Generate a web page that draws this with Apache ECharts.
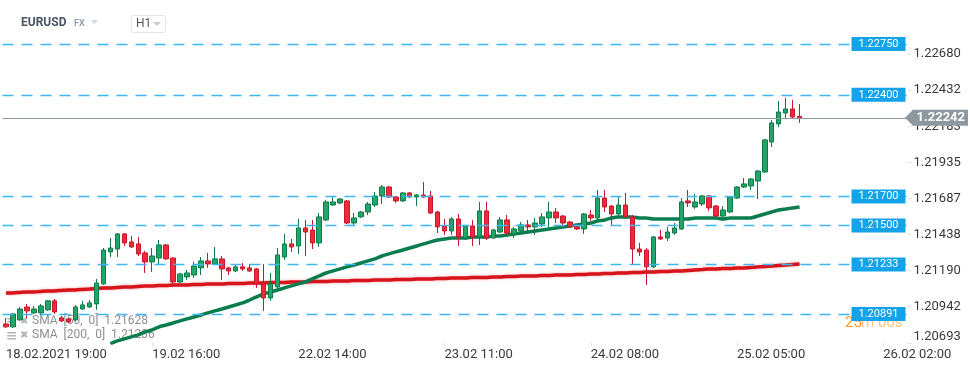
<!DOCTYPE html>
<html><head><meta charset="utf-8">
<script src="https://cdn.jsdelivr.net/npm/echarts@6/dist/echarts.min.js"></script>
<style>html,body{margin:0;padding:0;background:#fff}#c{width:970px;height:367px}</style>
</head><body><div id="c"></div>
<script>
// ---- data ----
const openP = [1.20823,1.20803,1.20851,1.20940,1.20899,1.20899,1.20920,1.20982,1.20865,1.20858,
1.20851,1.20926,1.20940,1.20961,1.21099,1.21319,1.21339,1.21443,1.21388,1.21374,
1.21312,1.21250,1.21277,1.21367,1.21277,1.21112,1.21147,1.21160,1.21209,1.21257,
1.21236,1.21271,1.21209,1.21188,1.21216,1.21209,1.21202,1.21099,1.21002,1.21078,
1.21284,1.21374,1.21360,1.21484,1.21470,1.21381,1.21539,1.21642,1.21656,1.21670,
1.21518,1.21560,1.21594,1.21642,1.21704,1.21766,1.21697,1.21670,1.21725,1.21697,
1.21711,1.21704,1.21594,1.21498,1.21463,1.21546,1.21415,1.21498,1.21422,1.21601,
1.21415,1.21456,1.21539,1.21443,1.21463,1.21505,1.21491,1.21511,1.21553,1.21594,
1.21566,1.21525,1.21491,1.21477,1.21573,1.21553,1.21690,1.21635,1.21580,1.21642,
1.21560,1.21339,1.21332,1.21216,1.21422,1.21415,1.21449,1.21477,1.21670,1.21628,
1.21649,1.21704,1.21635,1.21566,1.21594,1.21690,1.21766,1.21773,1.21807,1.21869,
1.22076,1.22200,1.22275,1.22303,1.22252];
const highP = [1.20865,1.20899,1.20940,1.20961,1.20947,1.20961,1.20988,1.20995,1.20878,1.20865,
1.20954,1.20982,1.20988,1.21133,1.21346,1.21415,1.21449,1.21449,1.21429,1.21422,
1.21326,1.21346,1.21401,1.21374,1.21284,1.21174,1.21195,1.21250,1.21284,1.21312,
1.21353,1.21291,1.21216,1.21236,1.21243,1.21236,1.21209,1.21236,1.21174,1.21346,
1.21443,1.21408,1.21546,1.21539,1.21539,1.21587,1.21677,1.21697,1.21690,1.21677,
1.21587,1.21601,1.21663,1.21732,1.21780,1.21773,1.21704,1.21732,1.21732,1.21718,
1.21800,1.21739,1.21601,1.21546,1.21560,1.21580,1.21505,1.21539,1.21663,1.21663,
1.21477,1.21560,1.21573,1.21491,1.21525,1.21539,1.21553,1.21587,1.21663,1.21622,
1.21573,1.21532,1.21498,1.21587,1.21608,1.21745,1.21745,1.21642,1.21697,1.21725,
1.21573,1.21381,1.21346,1.21429,1.21470,1.21491,1.21518,1.21690,1.21745,1.21718,
1.21711,1.21711,1.21642,1.21635,1.21704,1.21773,1.21828,1.21828,1.21883,1.22096,
1.22227,1.22358,1.22379,1.22365,1.22337];
const lowP = [1.20796,1.20796,1.20844,1.20865,1.20892,1.20885,1.20913,1.20892,1.20837,1.20830,
1.20844,1.20920,1.20933,1.20920,1.21092,1.21284,1.21284,1.21360,1.21346,1.21291,
1.21174,1.21181,1.21229,1.21264,1.21078,1.21105,1.21126,1.21140,1.21160,1.21209,
1.21229,1.21126,1.21160,1.21181,1.21188,1.21181,1.21071,1.20913,1.20982,1.21071,
1.21264,1.21319,1.21305,1.21291,1.21339,1.21353,1.21532,1.21635,1.21649,1.21511,
1.21505,1.21553,1.21573,1.21628,1.21649,1.21690,1.21656,1.21663,1.21690,1.21635,
1.21690,1.21580,1.21449,1.21436,1.21436,1.21360,1.21401,1.21360,1.21367,1.21401,
1.21408,1.21449,1.21436,1.21415,1.21449,1.21449,1.21436,1.21491,1.21484,1.21518,
1.21491,1.21484,1.21470,1.21443,1.21532,1.21525,1.21594,1.21505,1.21553,1.21546,
1.21236,1.21291,1.21092,1.21209,1.21401,1.21394,1.21436,1.21470,1.21628,1.21615,
1.21635,1.21601,1.21560,1.21560,1.21587,1.21683,1.21759,1.21745,1.21683,1.21862,
1.22041,1.22179,1.22241,1.22241,1.22207];
const closeP = [1.20803,1.20892,1.20926,1.20913,1.20926,1.20947,1.20982,1.20906,1.20844,1.20837,
1.20940,1.20954,1.20968,1.21105,1.21332,1.21346,1.21443,1.21381,1.21353,1.21305,
1.21250,1.21291,1.21367,1.21271,1.21112,1.21167,1.21174,1.21222,1.21257,1.21236,
1.21271,1.21202,1.21188,1.21216,1.21202,1.21188,1.21099,1.21002,1.21099,1.21298,
1.21374,1.21353,1.21484,1.21456,1.21381,1.21560,1.21663,1.21663,1.21683,1.21518,
1.21553,1.21594,1.21649,1.21704,1.21766,1.21697,1.21670,1.21725,1.21697,1.21711,
1.21697,1.21587,1.21491,1.21463,1.21546,1.21422,1.21498,1.21422,1.21601,1.21415,
1.21470,1.21539,1.21449,1.21477,1.21505,1.21491,1.21518,1.21560,1.21594,1.21553,
1.21518,1.21491,1.21477,1.21580,1.21553,1.21690,1.21628,1.21580,1.21642,1.21560,
1.21339,1.21319,1.21216,1.21422,1.21408,1.21456,1.21484,1.21663,1.21656,1.21663,
1.21704,1.21622,1.21566,1.21608,1.21697,1.21766,1.21787,1.21821,1.21876,1.22090,
1.22207,1.22282,1.22303,1.22248,1.22242];
const sma50 = [null,null,null,null,null,null,null,null,null,null,null,null,null,null,null,
1.20686,1.20706,1.20720,1.20734,1.20748,1.20768,1.20782,1.20803,1.20816,1.20830,
1.20844,1.20858,1.20871,1.20885,1.20899,1.20913,1.20926,1.20940,1.20954,1.20968,
1.20988,1.21009,1.21030,1.21043,1.21057,1.21071,1.21085,1.21099,1.21112,1.21133,
1.21154,1.21174,1.21188,1.21202,1.21216,1.21229,1.21243,1.21257,1.21271,1.21291,
1.21305,1.21319,1.21332,1.21346,1.21360,1.21374,1.21388,1.21401,1.21408,1.21415,
1.21415,1.21415,1.21422,1.21422,1.21422,1.21429,1.21429,1.21436,1.21443,1.21449,
1.21456,1.21463,1.21470,1.21477,1.21484,1.21491,1.21498,1.21505,1.21511,1.21518,
1.21532,1.21539,1.21553,1.21560,1.21560,1.21560,1.21553,1.21553,1.21546,1.21546,
1.21546,1.21546,1.21546,1.21546,1.21553,1.21553,1.21553,1.21553,1.21546,1.21553,
1.21553,1.21553,1.21553,1.21566,1.21580,1.21594,1.21608,1.21615,1.21622,1.21628];
const sma200 = [1.21037,1.21037,1.21040,1.21043,1.21043,1.21047,1.21050,
1.21050,1.21054,1.21057,1.21057,1.21061,1.21064,1.21068,1.21071,
1.21071,1.21074,1.21078,1.21078,1.21081,1.21085,1.21085,
1.21088,1.21088,1.21092,1.21092,1.21092,1.21095,1.21095,1.21098,
1.21098,1.21098,1.21102,1.21102,1.21102,1.21105,1.21105,1.21105,1.21109,1.21109,1.21109,1.21112,1.21112,
1.21112,1.21116,1.21116,1.21116,1.21119,1.21119,1.21119,1.21123,1.21123,1.21123,1.21126,1.21126,1.21126,
1.21129,1.21129,1.21129,1.21133,1.21133,1.21133,1.21136,1.21136,
1.21140,1.21140,1.21140,1.21143,1.21143,1.21143,1.21147,1.21147,1.21150,1.21150,1.21154,
1.21154,1.21154,1.21157,1.21157,1.21160,1.21160,1.21160,1.21164,1.21164,1.21167,
1.21167,1.21171,1.21171,1.21174,1.21174,1.21178,1.21178,1.21181,
1.21181,1.21185,1.21185,1.21188,1.21188,1.21191,1.21195,1.21198,
1.21202,1.21202,1.21205,1.21205,1.21209,1.21209,1.21212,
1.21216,1.21219,1.21222,1.21226,1.21229,1.21233,1.21236];
const levelValues = [1.22750, 1.22400, 1.21700, 1.21500, 1.21233, 1.20891];
const lastPrice = 1.22242;
const yTicks = [1.20693, 1.20942, 1.21190, 1.21438, 1.21687, 1.21935, 1.22183, 1.22432, 1.22680];
const slotCount = 130;        // hourly slots on the axis (incl. future)
const labelEvery = 21;        // a time label every 21 hours
const startUTC = Date.UTC(2021, 1, 18, 19);

// ---- categories: trading hours (weekend skipped) ----
function pad(n){return (n<10?'0':'')+n;}
const categories = [];
for (let t = startUTC; categories.length < slotCount; t += 3600000) {
  const d = new Date(t), day = d.getUTCDay(), h = d.getUTCHours();
  if (day === 6 || day === 0 || (day === 5 && h === 23)) continue;
  categories.push(pad(d.getUTCDate())+'.'+pad(d.getUTCMonth()+1)+'.'+d.getUTCFullYear()+' '+pad(h)+':00');
}
const candles = openP.map((o,i)=>[o, closeP[i], lowP[i], highP[i]]);

const chart = echarts.init(document.getElementById('c'), null, {renderer:'canvas'});
const FONT = 'Roboto';
const levelItems = levelValues.map(v => ({
  yAxis: v,
  lineStyle: {type:[11,8], color:'#3db6f2', width:1.3},
  label: {show:true, position:'insideEndTop', formatter: v.toFixed(5), color:'#fff',
    backgroundColor:'#12a3ea', padding:[2,7,1,7], fontSize:11, fontFamily:FONT,
    verticalAlign:'middle', distance:[2,0]}
}));
levelItems.push({
  yAxis: lastPrice,
  lineStyle: {type:'solid', color:'#8c989e', width:1},
  label: {show:true, position:'end', formatter: lastPrice.toFixed(5), color:'#fff',
    backgroundColor:'#8d999f', padding:[2,3,1,4], fontSize:13, fontWeight:'bold',
    fontFamily:FONT, distance:5}
});

const option = {
  animation:false,
  textStyle:{fontFamily:FONT},
  grid:{left:2.5, right:62.5, top:0, bottom:24},
  xAxis:{
    type:'category', data:categories, boundaryGap:true,
    axisLine:{show:false},
    axisTick:{show:true, alignWithLabel:true, interval:(i)=>i%labelEvery===0, length:3, lineStyle:{color:'#e2e2e2'}},
    axisLabel:{interval:(i)=>i%labelEvery===0, align:'left', color:'#3a3a3a', fontSize:13, margin:5,
      formatter:(v,i)=> i===0 ? v : v.replace('.2021','')},
    splitLine:{show:false}
  },
  yAxis:{
    type:'value', position:'right', min:1.20692, max:1.23053, scale:true,
    axisLine:{show:false},
    axisTick:{show:true, length:4, customValues:yTicks, lineStyle:{color:'#e0e0e0'}},
    axisLabel:{customValues:yTicks, color:'#3a3a3a', fontSize:13, margin:6,
      formatter:(v)=> v===yTicks[0] ? '{b|'+v.toFixed(5)+'}' : v.toFixed(5),
      rich:{b:{fontSize:13, color:'#3a3a3a', padding:[0,0,13,0]}}},
    splitLine:{show:false}
  },
  series:[
    {type:'line', name:'SMA200', data:sma200, showSymbol:false, z:2, smooth:0.2,
      lineStyle:{color:'#d7141c', width:3.5, shadowBlur:3, shadowColor:'rgba(215,20,28,0.35)'},
      markLine:{symbol:['none','none'], silent:true, animation:false, precision:5, z:5, data:levelItems}},
    {type:'line', name:'SMA50', data:sma50, showSymbol:false, z:2, smooth:0.2,
      lineStyle:{color:'#0a7d4f', width:3.5}},
    {type:'candlestick', data:candles, barWidth:5, z:3,
      itemStyle:{color:'#22a568', color0:'#f2293a', borderColor:'#0f7a49', borderColor0:'#c5192b', borderWidth:1}}
  ],
  graphic:[
    {type:'text', left:21, top:17, z:0, style:{text:'EURUSD', font:'bold 12px Roboto', fill:'#4a5562'}},
    {type:'text', left:74, top:19, z:0, style:{text:'FX', font:'bold 9px Roboto', fill:'#93a3ad'}},
    {type:'polygon', z:0, shape:{points:[[91,20],[98,20],[94.5,24]]}, style:{fill:'#d3d9dd'}},
    {type:'rect', z:0, shape:{x:131.5,y:15.5,width:34,height:17,r:2}, style:{fill:'#fff', stroke:'#e2e5e8'}},
    {type:'text', left:136, top:18, z:0, style:{text:'H1', font:'12px Roboto', fill:'#555'}},
    {type:'polygon', z:0, shape:{points:[[153,22],[161,22],[157,26]]}, style:{fill:'#c9cdd1'}},
    {type:'text', left:6, top:315, z:0, style:{text:'≡', font:'bold 14px DejaVu Sans', fill:'#b5b5b5'}},
    {type:'text', left:20, top:316, z:0, style:{text:'✖', font:'10px DejaVu Sans', fill:'#b5b5b5'}},
    {type:'text', left:32, top:315, z:0, style:{text:'SMA  [50,  0]  1.21628', font:'12px Roboto', fill:'#8f8f8f'}},
    {type:'text', left:6, top:329, z:0, style:{text:'≡', font:'bold 14px DejaVu Sans', fill:'#b5b5b5'}},
    {type:'text', left:20, top:330, z:0, style:{text:'✖', font:'10px DejaVu Sans', fill:'#b5b5b5'}},
    {type:'text', left:32, top:329, z:0, style:{text:'SMA  [200,  0]  1.21236', font:'12px Roboto', fill:'#8f8f8f'}},
    {type:'text', left:845, top:316, z:0, style:{text:'25', font:'15px Roboto', fill:'#ff9a1f'}},
    {type:'text', left:861, top:316, z:0, style:{text:'m 00s', font:'15px Roboto', fill:'#ffc27a'}}
  ]
};
chart.setOption(option);
// arrow tip of the current-price badge, positioned through the y scale
const py = chart.convertToPixel({yAxisIndex:0}, lastPrice);
const gx = chart.convertToPixel({xAxisIndex:0}, categories.length-1) + 3.5;
chart.setOption({graphic: option.graphic.concat([
  {type:'polygon', z:10, shape:{points:[[gx-2.5,py],[gx+5.5,py-8],[gx+5.5,py+8]]}, style:{fill:'#8d999f'}}
])});
</script></body></html>
